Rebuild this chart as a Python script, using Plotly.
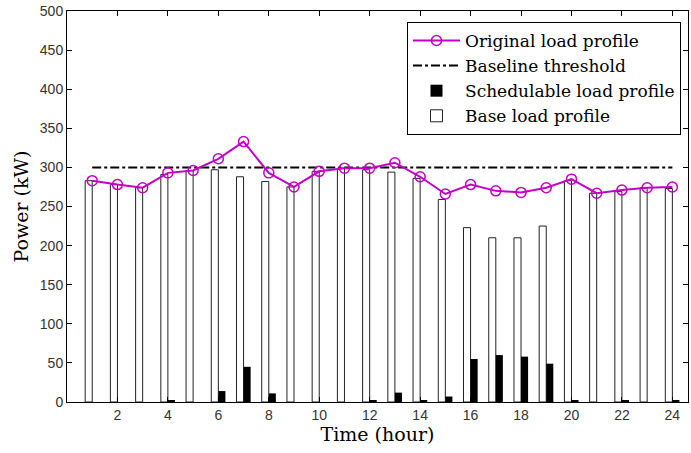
import plotly.graph_objects as go

hours = list(range(1, 25))
original_load = [283, 278, 274, 293, 296, 311, 333, 293, 275, 295, 299, 299,
                 306, 288, 266, 278, 270, 268, 274, 285, 267, 271, 274, 275]
schedulable_load = [0, 0, 0, 2, 0, 14, 45, 11, 0, 0, 0, 2,
                    12, 2, 7, 55, 60, 58, 49, 2, 0, 2, 0, 2]
base_load = [283, 278, 274, 291, 296, 297, 288, 282, 275, 295, 299, 297,
             294, 286, 259, 223, 210, 210, 225, 283, 267, 269, 274, 273]
threshold = [300] * 24
x_ticks = list(range(2, 25, 2))
y_ticks = list(range(0, 501, 50))

serif = "DejaVu Serif, serif"
magenta = "#c400c4"

fig = go.Figure()
fig.add_trace(go.Bar(x=hours, y=base_load, name="Base load profile",
                     marker=dict(color="white", line=dict(color="#222", width=1)),
                     legendrank=4))
fig.add_trace(go.Bar(x=hours, y=schedulable_load, name="Schedulable load profile",
                     marker=dict(color="black", line=dict(color="black", width=0)),
                     legendrank=3))
fig.add_trace(go.Scatter(x=hours, y=threshold, mode="lines", name="Baseline threshold",
                         line=dict(color="black", width=2, dash="dashdot"),
                         legendrank=2))
fig.add_trace(go.Scatter(x=hours, y=original_load, mode="lines+markers",
                         name="Original load profile",
                         line=dict(color=magenta, width=2),
                         marker=dict(symbol="circle-open", size=10,
                                     line=dict(color=magenta, width=1.5)),
                         legendrank=1))

axis_common = dict(showline=True, linecolor="black", linewidth=1, mirror="ticks",
                   ticks="inside", ticklen=5, tickcolor="black", showgrid=False,
                   zeroline=False,
                   tickfont=dict(family="Liberation Sans, Arial, sans-serif", size=14,
                                 color="#333"))

fig.update_layout(
    width=691, height=453,
    margin=dict(l=67, r=3, t=11, b=51),
    paper_bgcolor="white", plot_bgcolor="white",
    barmode="group", bargap=0.44, bargroupgap=0,
    xaxis=dict(range=[0, 24.62], tickvals=x_ticks,
               title=dict(text="Time (hour)", font=dict(family=serif, size=19, color="black"),
                          standoff=2),
               **axis_common),
    yaxis=dict(range=[0, 500], tickvals=y_ticks,
               title=dict(text="Power (kW)", font=dict(family=serif, size=19, color="black"),
                          standoff=6),
               **axis_common),
    legend=dict(x=0.5475, y=0.972, xanchor="left", yanchor="top",
                bordercolor="black", borderwidth=1, bgcolor="white",
                font=dict(family=serif, size=17, color="black"),
                tracegroupgap=0, itemwidth=47),
    showlegend=True,
)

fig.write_html("out.html")
